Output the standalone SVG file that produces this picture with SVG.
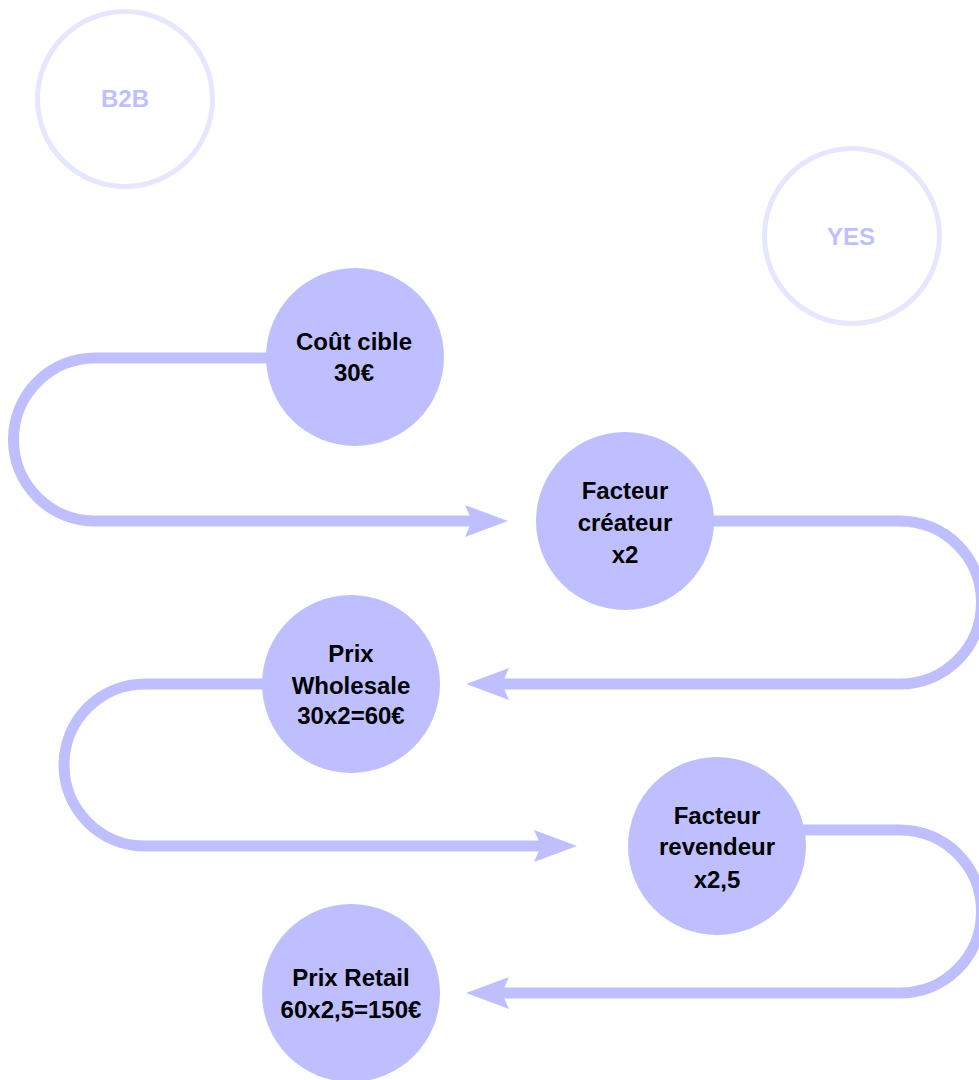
<svg xmlns="http://www.w3.org/2000/svg" width="979" height="1080" viewBox="0 0 979 1080">
<style>
.bg{fill:#ffffff}
.conn{fill:none;stroke:#BFBFFF;stroke-width:11;stroke-linecap:butt}
.node{fill:#BFBFFF}
.ring{fill:none;stroke:#E6E6FF;stroke-width:5}
.lbl{font-family:"Liberation Sans",Arial,Helvetica,sans-serif;font-weight:700;font-size:24px;fill:#000000;text-anchor:middle}
.ghost{font-family:"Liberation Sans",Arial,Helvetica,sans-serif;font-weight:700;font-size:24px;fill:#BFBFFF;text-anchor:middle}
</style>
<defs>
<marker id="arrow" viewBox="0 0 43 32" refX="7" refY="16" markerWidth="43" markerHeight="32" markerUnits="userSpaceOnUse" orient="auto">
<path d="M43,16 L0,0 L7,16 L0,32 Z" fill="#BFBFFF"/>
</marker>
</defs>
<rect class="bg" x="0" y="0" width="979" height="1080"/>
<g id="connectors">
<path class="conn" d="M355,358 H95 A81.5,81.5 0 0 0 95,521 H472" marker-end="url(#arrow)"/>
<path class="conn" d="M625,521 H900 A81.5,81.5 0 0 1 900,684 H502" marker-end="url(#arrow)"/>
<path class="conn" d="M351,684 H145 A81,81 0 0 0 145,846 H541" marker-end="url(#arrow)"/>
<path class="conn" d="M717,830 H900 A81.5,81.5 0 0 1 900,993 H502" marker-end="url(#arrow)"/>
</g>
<g id="node-b2b">
<circle class="ring" cx="125" cy="99" r="87.5"/>
<text class="ghost" x="125" y="107">B2B</text>
</g>
<g id="node-yes">
<circle class="ring" cx="852" cy="236" r="87.5"/>
<text class="ghost" x="851" y="245">YES</text>
</g>
<g id="node-cout">
<circle class="node" cx="355" cy="357" r="89"/>
<text class="lbl" x="354" y="350">Coût cible</text>
<text class="lbl" x="354" y="381">30€</text>
</g>
<g id="node-createur">
<circle class="node" cx="625" cy="521" r="89"/>
<text class="lbl" x="625" y="499">Facteur</text>
<text class="lbl" x="625" y="531">créateur</text>
<text class="lbl" x="625" y="563">x2</text>
</g>
<g id="node-wholesale">
<circle class="node" cx="351" cy="684" r="89"/>
<text class="lbl" x="351" y="662">Prix</text>
<text class="lbl" x="351" y="694">Wholesale</text>
<text class="lbl" x="351" y="724">30x2=60€</text>
</g>
<g id="node-revendeur">
<circle class="node" cx="717" cy="846" r="89"/>
<text class="lbl" x="717" y="824">Facteur</text>
<text class="lbl" x="717" y="855">revendeur</text>
<text class="lbl" x="717" y="888">x2,5</text>
</g>
<g id="node-retail">
<circle class="node" cx="351" cy="993" r="89"/>
<text class="lbl" x="351" y="986">Prix Retail</text>
<text class="lbl" x="351" y="1018">60x2,5=150€</text>
</g>
</svg>
